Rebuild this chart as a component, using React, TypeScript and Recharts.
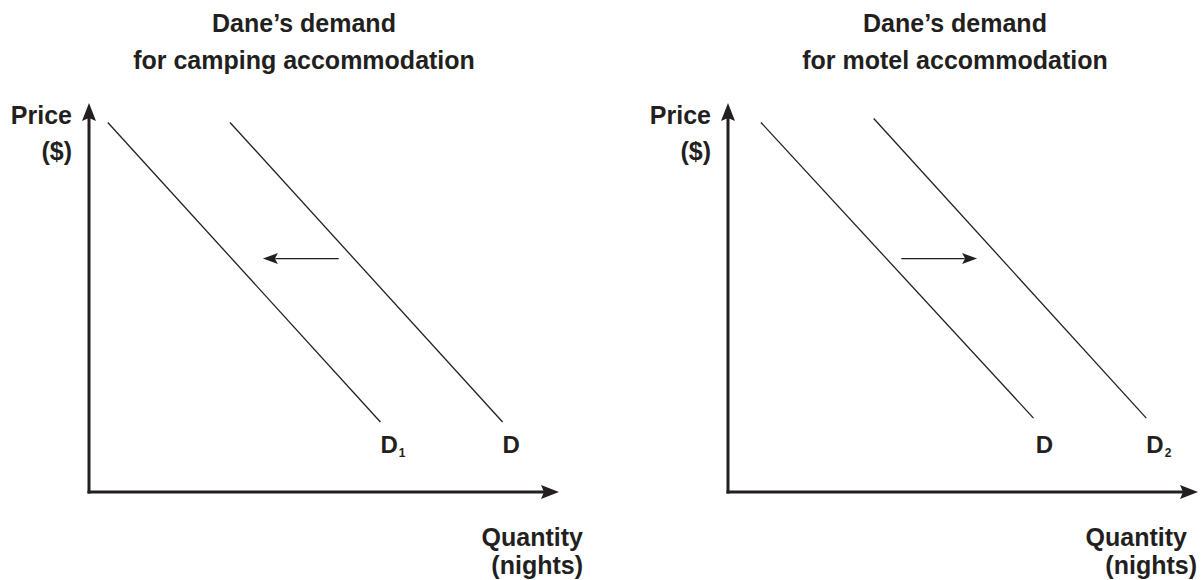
import React from 'react';
import { LineChart, Line, XAxis, YAxis, ReferenceLine, ReferenceDot } from 'recharts';

const INK = '#231f20';
const FONT = '"Liberation Sans", Arial, Helvetica, sans-serif';

// shared scale: quantity and price in arbitrary units
const quantityDomain = [0, 100];
const priceDomain = [0, 100];

// camping panel
const campingTitle = ['Dane\u2019s demand', 'for camping accommodation'];
const campingD1 = [{ q: 4, p: 95 }, { q: 62, p: 18 }];
const campingD = [{ q: 30, p: 95 }, { q: 88, p: 18 }];
const campingShift = [{ q: 53, p: 60 }, { q: 37, p: 60 }];
const campingCurveLabels = [
  { q: 62, p: 10, name: 'D', sub: '1' },
  { q: 88, p: 10, name: 'D', sub: '' },
];

// motel panel
const motelTitle = ['Dane\u2019s demand', 'for motel accommodation'];
const motelD = [{ q: 7, p: 95 }, { q: 65, p: 19 }];
const motelD2 = [{ q: 31, p: 96 }, { q: 89, p: 19 }];
const motelShift = [{ q: 37, p: 60 }, { q: 53, p: 60 }];
const motelCurveLabels = [
  { q: 65.5, p: 10, name: 'D', sub: '' },
  { q: 89, p: 10, name: 'D', sub: '2' },
];

const priceLabel = ['Price', '($)'];
const quantityLabel = ['Quantity', '(nights)'];

// line with a filled arrow head at its end point
const arrowShape = (headLen: number, headHalf: number, width: number) => (props: any) => {
  const { x1, y1, x2, y2 } = props;
  const len = Math.hypot(x2 - x1, y2 - y1) || 1;
  const ux = (x2 - x1) / len;
  const uy = (y2 - y1) / len;
  const bx = x2 - ux * headLen;
  const by = y2 - uy * headLen;
  const pts = `${x2},${y2} ${bx - uy * headHalf},${by + ux * headHalf} ${bx + ux * 3},${by + uy * 3} ${bx + uy * headHalf},${by - ux * headHalf}`;
  return (
    <g>
      <line x1={x1} y1={y1} x2={bx + ux * 2} y2={by + uy * 2} stroke={INK} strokeWidth={width} strokeLinecap="square" />
      <polygon points={pts} fill={INK} />
    </g>
  );
};

const curveLabel = (name: string, sub: string) => (props: any) => (
  <text x={props.cx} y={props.cy} fill={INK} fontFamily={FONT} fontWeight="bold" fontSize={24}>
    {name}
    {sub ? <tspan fontSize={12} dx={1} dy={4}>{sub}</tspan> : null}
  </text>
);

// two-line axis caption, right aligned, drawn relative to an anchor point on the axis
const axisCaption = (lines: string[], dx: number[], dy: number[]) => (props: any) => (
  <g fontFamily={FONT} fontWeight="bold" fontSize={25} fill={INK} textAnchor="end">
    {lines.map((t, i) => (
      <text key={t} x={props.cx + dx[i]} y={props.cy + dy[i]}>{t}</text>
    ))}
  </g>
);

interface PanelProps {
  left: number;
  width: number;
  margin: { top: number; right: number; bottom: number; left: number };
  curves: { q: number; p: number }[][];
  shift: { q: number; p: number }[];
  labels: { q: number; p: number; name: string; sub: string }[];
  quantityDx: number[];
}

const Panel = ({ left, width, margin, curves, shift, labels, quantityDx }: PanelProps) => (
  <div style={{ position: 'absolute', left, top: 0 }}>
    <LineChart width={width} height={580} margin={margin}>
      <XAxis type="number" dataKey="q" domain={quantityDomain} height={0} axisLine={false} tick={false} tickLine={false} />
      <YAxis type="number" dataKey="p" domain={priceDomain} width={0} axisLine={false} tick={false} tickLine={false} />
      <ReferenceLine segment={[{ x: 0, y: 0 }, { x: 100, y: 0 }]} shape={arrowShape(18, 7, 3)} />
      <ReferenceLine segment={[{ x: 0, y: 0 }, { x: 0, y: 100 }]} shape={arrowShape(18, 7, 3)} />
      {curves.map((c, i) => (
        <Line key={i} data={c} dataKey="p" stroke={INK} strokeWidth={1.3} dot={false} isAnimationActive={false} />
      ))}
      <ReferenceLine
        segment={[{ x: shift[0].q, y: shift[0].p }, { x: shift[1].q, y: shift[1].p }]}
        shape={arrowShape(15, 5.5, 1.3)}
      />
      {labels.map((l, i) => (
        <ReferenceDot key={i} x={l.q} y={l.p} r={0} shape={curveLabel(l.name, l.sub)} />
      ))}
      <ReferenceDot x={0} y={100} r={0} ifOverflow="visible" shape={axisCaption(priceLabel, [-17, -17], [21, 57])} />
      <ReferenceDot x={100} y={0} r={0} ifOverflow="visible" shape={axisCaption(quantityLabel, quantityDx, [54, 82])} />
    </LineChart>
  </div>
);

const Title = ({ lines, center }: { lines: string[]; center: number }) => (
  <div
    style={{
      position: 'absolute',
      left: center - 250,
      top: 5,
      width: 500,
      textAlign: 'center',
      fontFamily: FONT,
      fontWeight: 'bold',
      fontSize: 25,
      lineHeight: '37px',
      color: INK,
    }}
  >
    {lines.map((t) => (
      <div key={t}>{t}</div>
    ))}
  </div>
);

export default function App() {
  return (
    <div style={{ position: 'absolute', left: 0, top: 0, width: 1201, height: 580, background: '#fff', overflow: 'hidden' }}>
      <Title lines={campingTitle} center={304} />
      <Title lines={motelTitle} center={955} />
      <Panel
        left={0}
        width={600}
        margin={{ top: 103, right: 41, bottom: 88, left: 89 }}
        curves={[campingD1, campingD]}
        shift={campingShift}
        labels={campingCurveLabels}
        quantityDx={[24, 24]}
      />
      <Panel
        left={600}
        width={601}
        margin={{ top: 103, right: 3, bottom: 88, left: 128 }}
        curves={[motelD, motelD2]}
        shift={motelShift}
        labels={motelCurveLabels}
        quantityDx={[-11, -1]}
      />
    </div>
  );
}
